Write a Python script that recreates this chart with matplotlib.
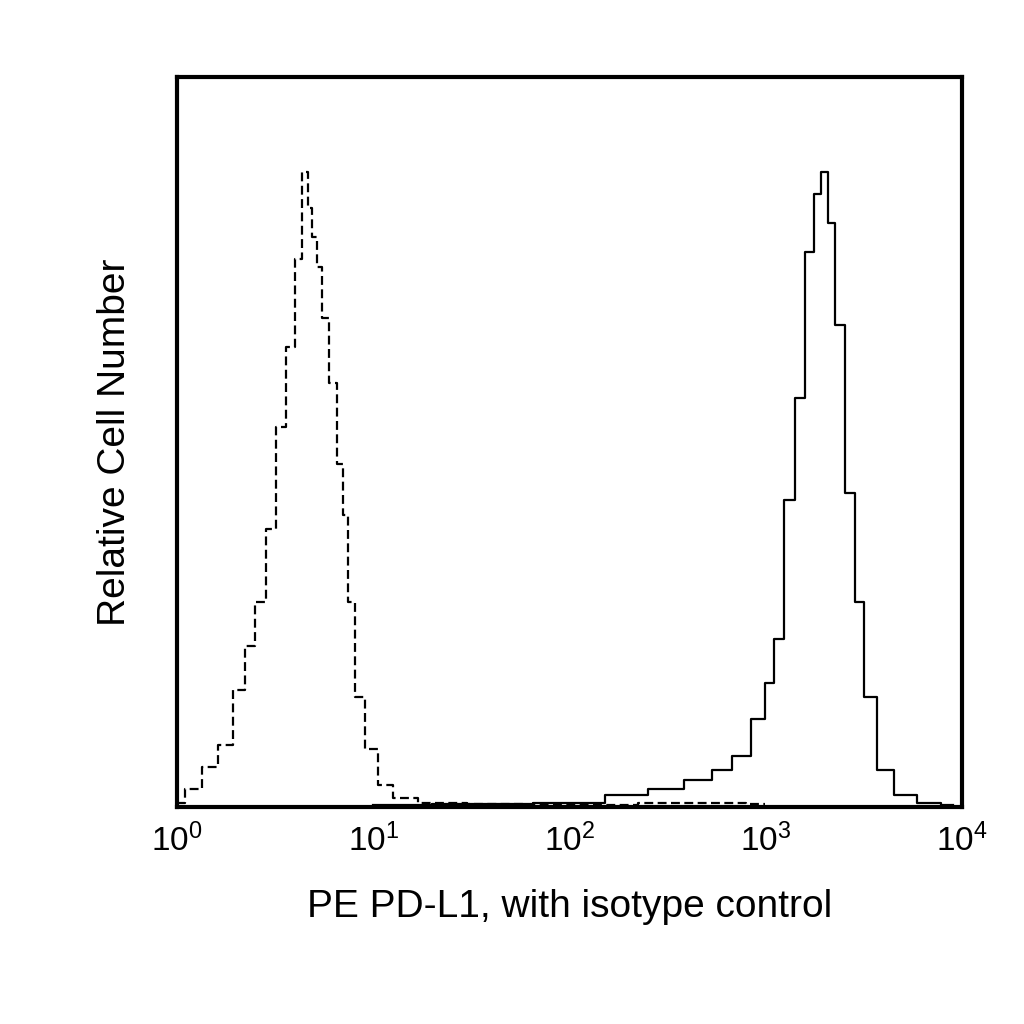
import matplotlib
matplotlib.use('Agg')
import matplotlib.pyplot as plt

plt.rcParams['font.family'] = ['Liberation Sans', 'DejaVu Sans']

# isotype control (dashed)
iso_x = [1.0, 1.2, 1.48, 1.75, 2.1, 2.35, 2.65, 3.0, 3.4, 3.8, 4.2, 4.5, 4.8, 5.0,
         5.3, 5.7, 6.2, 6.8, 7.2, 7.6, 8.5, 9.6, 11.5, 13.7, 20, 40, 80, 150, 300, 600, 1000]
iso_y = [0.5, 2.5, 5.5, 8.5, 16, 22, 28, 38, 52, 63, 75, 87, 82, 78,
         74, 67, 58, 47, 40, 28, 15, 8, 3, 1.2, 0.6, 0.4, 0.3, 0.3, 0.5, 0.6, 0.4]

# PE PD-L1 (solid)
pd_x = [10, 30, 100, 204, 300, 465, 600, 750, 940, 1050, 1150, 1340, 1500, 1700,
        1850, 2000, 2150, 2400, 2700, 3000, 3400, 4000, 5100, 6800, 9000]
pd_y = [0.2, 0.4, 0.6, 1.6, 2.5, 3.7, 5, 7, 12, 17, 23, 42, 56, 76,
        84, 87, 80, 66, 43, 28, 15, 5, 1.6, 0.5, 0.2]

fig = plt.figure(figsize=(10.24, 10.24), dpi=100)
ax = fig.add_axes([0.173, 0.212, 0.766, 0.713])
ax.step(iso_x, iso_y, where='mid', color='black', linestyle=(0, (4, 2)), linewidth=1.6)
ax.step(pd_x, pd_y, where='mid', color='black', linewidth=1.6)

ax.set_xscale('log')
ax.set_xlim(1, 1e4)
ax.set_ylim(0, 100)
ax.set_xticks([1, 10, 100, 1000, 10000])
ax.minorticks_off()
ax.set_yticks([])
ax.tick_params(axis='x', length=0, pad=12, labelsize=24)
for s in ax.spines.values():
    s.set_linewidth(3)
ax.set_xlabel('PE PD-L1, with isotype control', fontsize=28, labelpad=22)
ax.set_ylabel('Relative Cell Number', fontsize=28, labelpad=32)

fig.savefig('out.png', dpi=100)
